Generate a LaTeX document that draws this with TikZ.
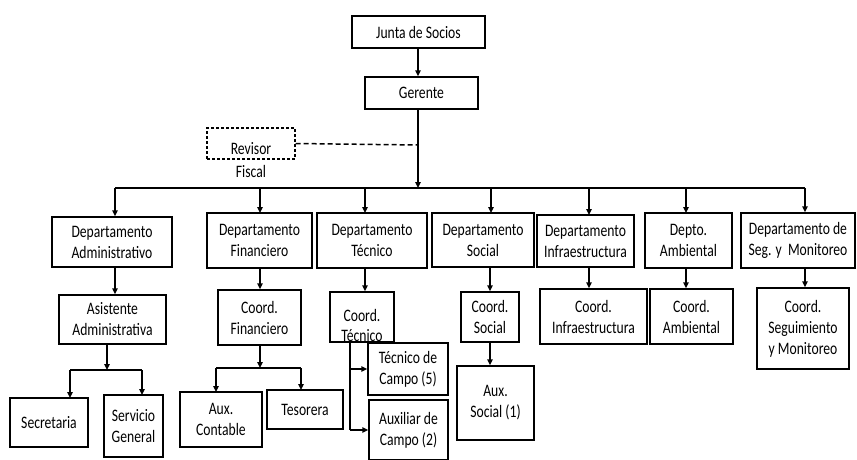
\documentclass[tikz,border=0pt]{standalone}
\usepackage{fontspec}
\setmainfont{Carlito}[FakeStretch=0.78]
\usetikzlibrary{arrows.meta}
\begin{document}
\begin{tikzpicture}[x=1pt,y=-1pt,
  box/.style={draw, line width=1.5pt, inner sep=0pt, align=center, font=\fontsize{17.5}{21}\selectfont},
  dbox/.style={draw, dash pattern=on 3pt off 2pt, line width=1.3pt, inner sep=0pt},
  lbl/.style={inner sep=0pt, align=center, font=\fontsize{17.5}{23}\selectfont},
  arr/.style={line width=1.5pt, -{Triangle[length=6pt,width=5.5pt]}},
  ln/.style={line width=1.5pt}]
\useasboundingbox (0,0) rectangle (857,459);
% top
\node[box, minimum width=133pt, minimum height=32pt] (junta) at (418.5,32) {Junta de Socios};
\node[box, minimum width=113pt, minimum height=32pt] (ger) at (421.5,93) {Gerente};
\node[dbox, minimum width=88pt, minimum height=31pt] (rev) at (251,143.5) {};
\node[lbl] (revt) at (251,160) {Revisor\\Fiscal};
\coordinate (gx) at (418,145);
\coordinate (busL) at (115,188);
\coordinate (busR) at (805,188);
\coordinate (busM) at (418,188);
\draw[arr] (junta.south -| gx) -- (ger.north -| gx);
\draw[arr] (ger.south -| gx) -- (busM);
\draw[ln, dash pattern=on 5pt off 3pt] (rev.east) -- (gx);
\draw[ln] (busL) -- (busR);
% departments
\node[box, minimum width=120pt, minimum height=50pt] (adm) at (112,242) {Departamento\\Administrativo};
\node[box, minimum width=105pt, minimum height=55pt] (fin) at (259.5,240.5) {Departamento\\Financiero};
\node[box, minimum width=110pt, minimum height=55pt] (tec) at (372,240.5) {Departamento\\Técnico};
\node[box, minimum width=102pt, minimum height=54pt] (soc) at (483,240) {Departamento\\Social};
\node[box, minimum width=97pt, minimum height=52pt] (inf) at (585.5,241) {Departamento\\Infraestructura};
\node[box, minimum width=87pt, minimum height=55pt] (amb) at (688.5,240.5) {Depto.\\Ambiental};
\node[box, minimum width=114pt, minimum height=55pt] (seg) at (798,240.5) {Departamento de\\Seg. y\ \ Monitoreo};
\draw[arr] (busL) -- (busL |- adm.north);
\draw[arr] (260,188) -- (260,213);
\draw[arr] (365,188) -- (365,213);
\draw[arr] (491,188) -- (491,213);
\draw[arr] (589,188) -- (589,215);
\draw[arr] (686,188) -- (686,213);
\draw[arr] (busR) -- (busR |- seg.north);
% second level
\node[box, minimum width=107pt, minimum height=49pt] (asi) at (112.5,319.5) {Asistente\\Administrativa};
\node[box, minimum width=83pt, minimum height=55pt] (cfin) at (259.5,317.5) {Coord.\\Financiero};
\node[box, minimum width=64pt, minimum height=50pt, text depth=0pt] (ctec) at (362,317) {\raisebox{-5pt}{\begin{tabular}{@{}c@{}}Coord.\\[-1pt]Técnico\end{tabular}}};
\node[box, minimum width=58pt, minimum height=50pt] (csoc) at (490,317) {Coord.\\Social};
\node[box, minimum width=107pt, minimum height=55pt] (cinf) at (593.5,316.5) {Coord.\\Infraestructura};
\node[box, minimum width=83pt, minimum height=55pt] (camb) at (691.5,316.5) {Coord.\\Ambiental};
\node[box, minimum width=92pt, minimum height=81pt] (cseg) at (803,328.5) {Coord.\\Seguimiento\\y Monitoreo};
\coordinate (xF) at (260,0);
\coordinate (xT) at (365,0);
\coordinate (xI) at (589,0);
\coordinate (xA) at (686,0);
\draw[arr] (adm.south -| busL) -- (asi.north -| busL);
\draw[arr] (fin.south -| xF) -- (cfin.north -| xF);
\draw[arr] (tec.south -| xT) -- (ctec.north -| xT);
\draw[arr] (soc.south -| csoc) -- (csoc.north);
\draw[arr] (inf.south -| xI) -- (cinf.north -| xI);
\draw[arr] (amb.south -| xA) -- (camb.north -| xA);
\draw[arr] (seg.south -| busR) -- (cseg.north -| busR);
% third level
\node[box, minimum width=78pt, minimum height=49pt] (sec) at (49,422.5) {Secretaria};
\node[box, minimum width=59pt, minimum height=62pt] (serv) at (133.5,426) {Servicio\\General};
\node[box, minimum width=82pt, minimum height=55pt] (auxc) at (221,419.5) {Aux.\\Contable};
\node[box, minimum width=76pt, minimum height=39pt] (teso) at (305,409.5) {Tesorera};
\node[box, minimum width=80pt, minimum height=52pt] (tcam) at (408,369) {Técnico de\\Campo (5)};
\node[box, minimum width=79pt, minimum height=60pt] (acam) at (408.5,430) {Auxiliar de\\Campo (2)};
\node[box, minimum width=77pt, minimum height=74pt] (auxs) at (495.5,403) {Aux.\\Social (1)};
% administrativa split
\coordinate (jA) at (107,370);
\draw[arr] (asi.south -| jA) -- (jA);
\draw[ln] (70,370) -- (142,370);
\draw[arr] (70,370) -- (70,398);
\draw[arr] (142,370) -- (142,395);
% financiero split
\coordinate (jF) at (260,368);
\draw[arr] (cfin.south -| jF) -- (jF);
\draw[ln] (216,368) -- (301,368);
\draw[arr] (216,368) -- (216,392);
\draw[arr] (301,368) -- (301,390);
% tecnico split
\coordinate (jT) at (350,430);
\draw[ln] (ctec.south -| jT) -- (jT);
\draw[arr] (jT |- tcam.west) -- (tcam.west);
\draw[arr] (jT) -- (jT -| acam.west);
% social
\draw[arr] (csoc.south) -- (auxs.north -| csoc.south);
\end{tikzpicture}
\end{document}
